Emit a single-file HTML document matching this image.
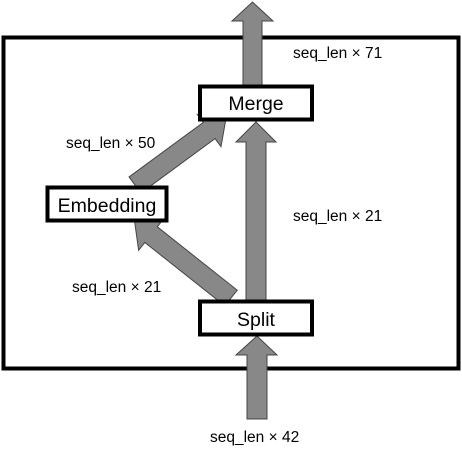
<!DOCTYPE html>
<html><head><meta charset="utf-8"><style>
html,body{margin:0;padding:0;background:#fff;}
svg{display:block;}
text{font-family:"Liberation Sans",sans-serif;fill:#000;}
</style></head><body>
<svg width="462" height="450" viewBox="0 0 462 450" xmlns="http://www.w3.org/2000/svg">
<rect x="3.5" y="37.5" width="455" height="331" fill="none" stroke="#000" stroke-width="4"/>
<g fill="#888" stroke="#444" stroke-width="1">
<polygon points="243,86 243,21 232,21 252.5,2 273,21 262,21 262,86"/>
<polygon points="246,300 246,142 236,142 256,122 276,142 266,142 266,300"/>
<polygon points="247,419 247,355 236,355 257,336 277,355 267,355 267,419"/>
<g transform="translate(231,298) rotate(218.4)">
<polygon points="0,-10 102,-10 102,-20 123,0 102,20 102,10 0,10"/>
</g>
<g transform="translate(135,185) rotate(-36.3)">
<polygon points="0,-10 92,-10 92,-20 113,0 92,20 92,10 0,10"/>
</g>
</g>
<rect x="200" y="86.5" width="112" height="33" fill="#fff" stroke="#000" stroke-width="4"/>
<rect x="47.5" y="187.5" width="119" height="33" fill="#fff" stroke="#000" stroke-width="4"/>
<rect x="200" y="301.5" width="112" height="33" fill="#fff" stroke="#000" stroke-width="4"/>
<text x="256" y="110" font-size="19.5" text-anchor="middle">Merge</text>
<text x="107" y="212" font-size="19.5" text-anchor="middle">Embedding</text>
<text x="256" y="326" font-size="19.5" text-anchor="middle">Split</text>
<text x="293" y="58" font-size="15.5">seq_len × 71</text>
<text x="66" y="148" font-size="15.5">seq_len × 50</text>
<text x="293" y="221" font-size="15.5">seq_len × 21</text>
<text x="72" y="292" font-size="15.5">seq_len × 21</text>
<text x="210" y="442" font-size="15.5">seq_len × 42</text>
</svg>
</body></html>
